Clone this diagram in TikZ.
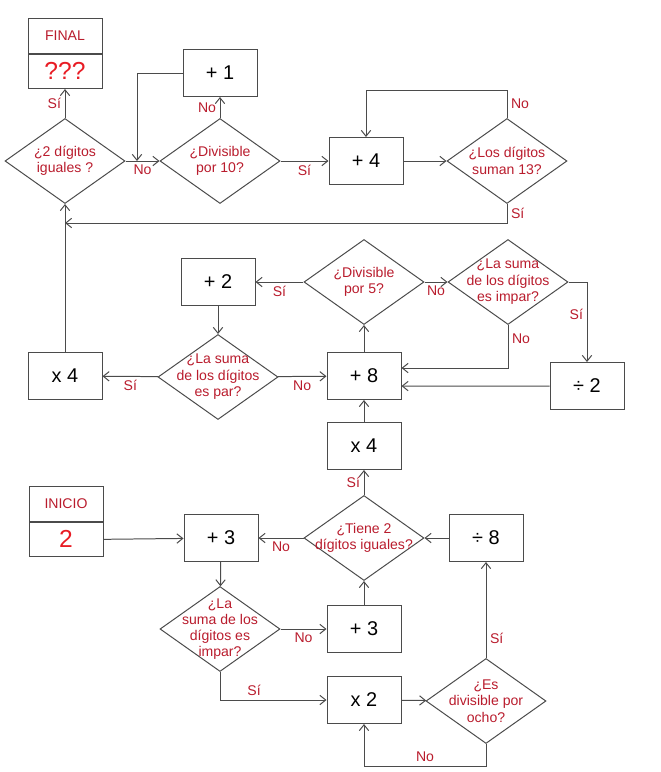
\documentclass[tikz,border=0pt]{standalone}
\usepackage{fontspec}
\setmainfont{Liberation Sans}
\usetikzlibrary{shapes.geometric,positioning}
\usetikzlibrary{arrows.meta}
\definecolor{qred}{RGB}{185,28,45}
\definecolor{vred}{RGB}{232,28,36}
\definecolor{lgray}{RGB}{75,75,75}

\begin{document}
\begin{tikzpicture}[x=0.03cm,y=-0.03cm,->,>={Straight Barb[length=5pt,width=8pt]},
                    color=lgray,line width=0.85pt,
  box/.style={rectangle,draw,text=black,minimum width=2.22cm,minimum height=1.41cm,
              inner sep=0pt,font=\fontsize{17}{20}\selectfont},
  tag/.style={rectangle,draw,minimum width=2.22cm,minimum height=1.03cm,inner sep=0pt},
  dec/.style={diamond,draw,minimum width=3.6cm,minimum height=2.55cm,inner sep=0pt},
  qtext/.style={text=qred,align=center,font=\fontsize{12}{14}\selectfont},
  lbl/.style={text=qred,font=\fontsize{12}{14}\selectfont,inner sep=3pt}]

  \useasboundingbox (0,0) rectangle (660,772);

  % top row
  \node[tag,text=qred,font=\fontsize{12}{14}\selectfont] (F1) at (65,36) {FINAL};
  \node[tag,text=vred,font=\fontsize{21}{24}\selectfont,below=0pt of F1] (F2) {???};
  \node[box] (B1) at (220,73)  {+ 1};
  \node[dec,label={[qtext]center:{¿2 dígitos\\iguales ?}}]  (D1) at (65,161)  {};
  \node[dec,label={[qtext]center:{¿Divisible\\por 10?}}]    (D2) at (220,161) {};
  \node[box] (B2) at (366,161) {+ 4};
  \node[dec,label={[qtext]center:{¿Los dígitos\\suman 13?}}] (D3) at (507,161) {};

  % middle
  \node[box] (B3) at (218,282) {+ 2};
  \node[dec,label={[qtext]center:{¿Divisible\\por 5?}}] (D4) at (364,282) {};
  \node[dec,label={[qtext]center:{¿La suma\\de los dígitos\\es impar?}}] (D5) at (508,282) {};
  \node[box] (B4) at (65,376)  {x 4};
  \node[dec,label={[qtext]center:{¿La suma\\de los dígitos\\es par?}}] (D6) at (218,377) {};
  \node[box] (B5) at (364,376) {+ 8};
  \node[box] (B8) at (587,386) {÷ 2};
  \node[box] (B6) at (364,446) {x 4};

  % bottom
  \node[dec,label={[qtext]center:{¿Tiene 2\\dígitos iguales?}}] (D7) at (364,538) {};
  \node[box] (B11) at (486,538) {÷ 8};
  \node[tag,text=qred,font=\fontsize{12}{14}\selectfont] (I1) at (66,504) {INICIO};
  \node[tag,text=vred,font=\fontsize{21}{24}\selectfont,below=0pt of I1] (I2) {2};
  \node[box] (B7) at (221,538) {+ 3};
  \node[dec,label={[qtext,font=\fontsize{12}{13.5}\selectfont]center:{¿La\\suma de los\\dígitos es\\impar?}}] (D9) at (220,629) {};
  \node[box] (B9)  at (364,629) {+ 3};
  \node[box] (B10) at (364,700) {x 2};
  \node[dec,label={[qtext]center:{¿Es\\divisible por\\ocho?}}] (D8) at (486,701) {};

  \coordinate (J1) at (137,161);
  \coordinate (J3) at (65,223);

  \path
        (D1) edge node[lbl,left]  {Sí} (F2)
        (D1) edge node[lbl,below] {No} (D2)
        (D2) edge node[lbl,left]  {No} (B1)
        (D2) edge node[lbl,below] {Sí} (B2)
        (B2) edge                      (D3)
        (B4) edge                      (D1)
        (B3) edge                      (D6)
        (D4) edge node[lbl,below] {Sí} (B3)
        (D4) edge node[lbl,below] {No} (D5)
        (D6) edge node[lbl,below] {Sí} (B4)
        (D6) edge node[lbl,below] {No} (B5)
        (B5) edge                      (D4)
        (B6) edge                      (B5)
        (B8.west) edge                 (B5.-15)
        (D7) edge node[lbl,left]  {Sí} (B6)
        (B11) edge                     (D7)
        (D7) edge node[lbl,below] {No} (B7)
        (I2.east) edge                 (B7)
        (B7) edge                      (D9)
        (D9) edge node[lbl,below] {No} (B9)
        (B9) edge                      (D7)
        (B10) edge                     (D8)
        (D8) edge node[lbl,right,pos=0.2] {Sí} (B11)
  ;

  \draw (B1.west) -| (J1);
  \draw (D3.north) -- node[lbl,right] {No} ++(0,-28) -| (B2.north);
  \draw (D3.south) |- node[lbl,right,pos=0.25] {Sí} (J3);
  \draw (D5.east) -| node[lbl,left,pos=0.7] {Sí} (B8.north);
  \draw (D5.south) |- node[lbl,right,pos=0.16] {No} (B5.12);
  \draw (D9.south) |- node[lbl,above,pos=0.66] {Sí} (B10.west);
  \draw (D8.south) -- ++(0,22) -| node[lbl,above,pos=0.25] {No} (B10.south);
\end{tikzpicture}
\end{document}
